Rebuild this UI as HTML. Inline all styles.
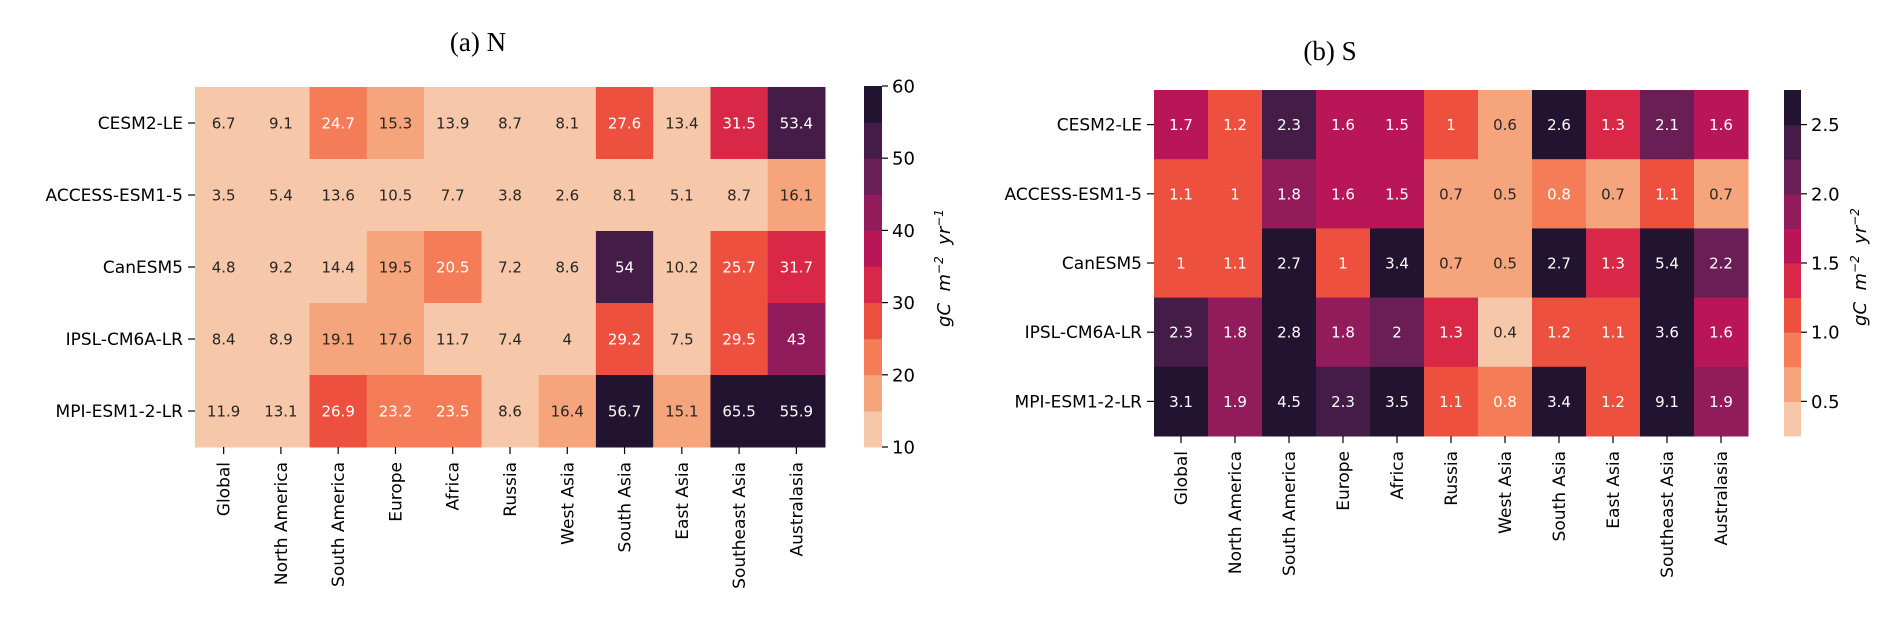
<!DOCTYPE html>
<html><head><meta charset="utf-8"><style>
html,body{margin:0;padding:0;background:#fff;}
svg{display:block;font-family:"DejaVu Sans","Liberation Sans",sans-serif;}
</style></head><body>
<svg id="fig" width="1892" height="629" viewBox="0 0 1892 629" xmlns="http://www.w3.org/2000/svg"></svg>
<script>
const models = ["CESM2-LE","ACCESS-ESM1-5","CanESM5","IPSL-CM6A-LR","MPI-ESM1-2-LR"];
const regions = ["Global","North America","South America","Europe","Africa","Russia","West Asia","South Asia","East Asia","Southeast Asia","Australasia"];
const valuesN = [
 [6.7,9.1,24.7,15.3,13.9,8.7,8.1,27.6,13.4,31.5,53.4],
 [3.5,5.4,13.6,10.5,7.7,3.8,2.6,8.1,5.1,8.7,16.1],
 [4.8,9.2,14.4,19.5,20.5,7.2,8.6,54,10.2,25.7,31.7],
 [8.4,8.9,19.1,17.6,11.7,7.4,4,29.2,7.5,29.5,43],
 [11.9,13.1,26.9,23.2,23.5,8.6,16.4,56.7,15.1,65.5,55.9]];
const valuesS = [
 [1.7,1.2,2.3,1.6,1.5,1,0.6,2.6,1.3,2.1,1.6],
 [1.1,1,1.8,1.6,1.5,0.7,0.5,0.8,0.7,1.1,0.7],
 [1,1.1,2.7,1,3.4,0.7,0.5,2.7,1.3,5.4,2.2],
 [2.3,1.8,2.8,1.8,2,1.3,0.4,1.2,1.1,3.6,1.6],
 [3.1,1.9,4.5,2.3,3.5,1.1,0.8,3.4,1.2,9.1,1.9]];
const ticksN = [10,20,30,40,50,60];
const ticksS = [0.5,1.0,1.5,2.0,2.5];
const palette = ["#f6c8a9","#f6a47c","#f47d57","#ed503e","#d92847","#b91657","#921c5b","#691f55","#451c47","#221331"];

const NS="http://www.w3.org/2000/svg";
const svg=document.getElementById('fig');
function el(tag,attrs,parent){const e=document.createElementNS(NS,tag);for(const k in attrs)e.setAttribute(k,attrs[k]);(parent||svg).appendChild(e);return e;}

function panel(cfg){
  const g=el('g',{});
  
  
  const cw=(cfg.x1-cfg.x0)/regions.length, rh=(cfg.y1-cfg.y0)/models.length;
  const nb=palette.length, step=(cfg.vmax-cfg.vmin)/nb;
  const band=v=>Math.max(0,Math.min(nb-1,Math.floor((v-cfg.vmin)/step)));
  const xs=i=>cfg.x0+i*cw, ys=j=>cfg.y0+j*rh;
  cfg.data.forEach((row,j)=>row.forEach((v,i)=>{
    const b=band(v);
    const r=el('rect',{x:xs(i),y:ys(j),width:cw+0.5,height:rh+0.5,fill:palette[b]},g);
    
    
    const t=el('text',{x:xs(i)+cw/2,y:ys(j)+rh/2+5.5,'text-anchor':'middle','font-size':15,fill:b>=2?'#ffffff':'#262626'},g);
    t.textContent=String(v);
    
    
  }));
  models.forEach((m,j)=>{
    const y=ys(j)+rh/2;
    el('line',{x1:cfg.x0-7,x2:cfg.x0,y1:y,y2:y,stroke:'#000','stroke-width':1.2},g);
    const t=el('text',{x:cfg.x0-12,y:y+6,'text-anchor':'end','font-size':17,fill:'#000'},g);
    t.textContent=m;
    
    
  });
  regions.forEach((r,i)=>{
    const x=xs(i)+cw/2;
    el('line',{x1:x,x2:x,y1:cfg.y1,y2:cfg.y1+7,stroke:'#000','stroke-width':1.2},g);
    const t=el('text',{x:0,y:0,'text-anchor':'end','font-size':17,fill:'#000',transform:`translate(${x+6},${cfg.y1+15}) rotate(-90)`},g);
    t.textContent=r;
    
    
  });
  const cb=el('g',{},g);
  
  
  const bh=(cfg.cy1-cfg.cy0)/nb;
  palette.forEach((c,k)=>{el('rect',{x:cfg.cx,y:cfg.cy1-(k+1)*bh,width:cfg.cwid,height:bh+0.5,fill:c},cb);});
  const cv=v=>cfg.cy1-(v-cfg.vmin)/(cfg.vmax-cfg.vmin)*(cfg.cy1-cfg.cy0);
  cfg.ticks.forEach(v=>{
    const y=cv(v);
    el('line',{x1:cfg.cx+cfg.cwid,x2:cfg.cx+cfg.cwid+6,y1:y,y2:y,stroke:'#000','stroke-width':1.2},cb);
    const t=el('text',{x:cfg.cx+cfg.cwid+10,y:y+6.5,'font-size':18,fill:'#000'},cb);
    t.textContent=cfg.fmt(v);
    
    
  });
  const lab=el('text',{x:0,y:0,'text-anchor':'middle','font-size':18,'font-style':'italic',fill:'#000',transform:`translate(${cfg.lx},${cfg.ly}) rotate(-90)`},cb);
  lab.innerHTML='gC&#160;&#160;m<tspan dy="-7" font-size="12">\u22122</tspan><tspan dy="7">&#160;&#160;yr</tspan><tspan dy="-7" font-size="12">\u2212'+cfg.exp+'</tspan>';
  
  
  const tt=el('text',{x:cfg.tx,y:cfg.ty,'text-anchor':'middle','font-size':27,fill:'#000','font-family':'"Liberation Serif",serif'},g);
  tt.textContent=cfg.title;
  
  
}
panel({name:'heatmap-n',data:valuesN,x0:195,x1:825,y0:87,y1:447,vmin:10,vmax:60,ticks:ticksN,fmt:v=>String(v),
  cx:864,cwid:18,cy0:86,cy1:447,lx:950,ly:268,exp:'1',title:'(a) N',tx:478,ty:51});
panel({name:'heatmap-s',data:valuesS,x0:1154,x1:1748,y0:90,y1:436,vmin:0.25,vmax:2.75,ticks:ticksS,fmt:v=>v.toFixed(1),
  cx:1784,cwid:17,cy0:90,cy1:436,lx:1866,ly:267,exp:'2',title:'(b) S',tx:1330,ty:60});
</script>
</body></html>
